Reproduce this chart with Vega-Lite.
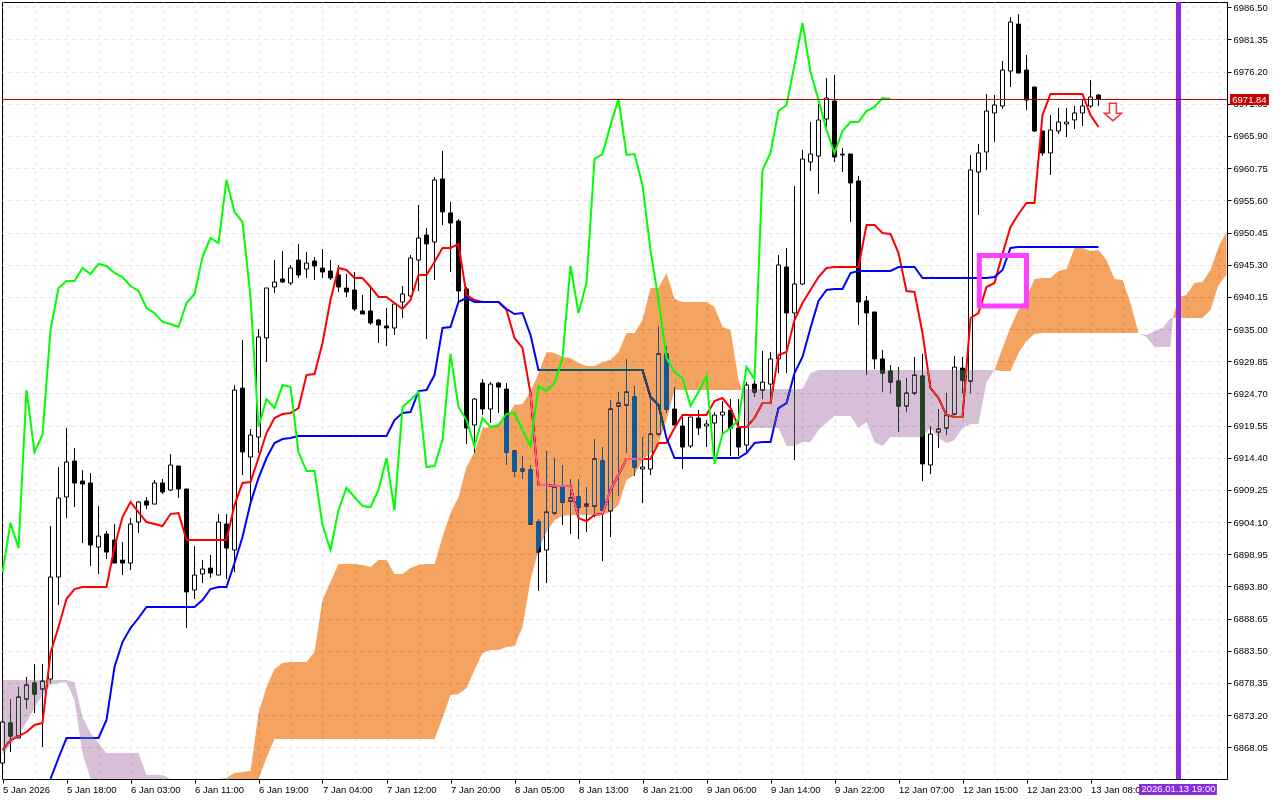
{
"$schema":"https://vega.github.io/schema/vega-lite/v6.json",
"width":1225,"height":777,
"autosize":{"type":"none"},
"padding":{"left":2,"top":2,"right":53,"bottom":21},
"background":"white",
"config":{"view":{"stroke":"black","strokeWidth":1},"font":"Liberation Sans"},
"datasets":{
"bars":[
{"i":0,"o":6865.53,"h":6872.09,"l":6865.21,"c":6872.09,"t":6867.61,"g":6896.10},
{"i":1,"o":6871.93,"h":6875.77,"l":6867.29,"c":6869.85,"t":6869.21,"g":6903.94},
{"i":2,"o":6869.53,"h":6877.69,"l":6869.53,"c":6876.09,"t":6869.85,"g":6899.94},
{"i":3,"o":6875.77,"h":6879.29,"l":6874.17,"c":6878.01,"t":6870.49,"g":6925.23},
{"i":4,"o":6878.33,"h":6881.37,"l":6873.53,"c":6876.57,"t":6871.61,"g":6915.31},
{"i":5,"o":6877.37,"h":6881.37,"l":6868.09,"c":6878.65,"t":6871.93,"g":6918.03},
{"i":6,"o":6878.97,"h":6903.46,"l":6878.33,"c":6895.30,"t":6883.13,"k":6862.97,"g":6934.85},
{"i":7,"o":6895.30,"h":6912.91,"l":6890.82,"c":6907.95,"t":6887.30,"k":6866.33,"g":6941.57},
{"i":8,"o":6908.11,"h":6919.15,"l":6904.74,"c":6913.71,"t":6891.78,"k":6869.53,"g":6942.69},
{"i":9,"o":6913.87,"h":6915.95,"l":6906.50,"c":6910.35,"t":6893.38,"k":6869.53,"g":6942.69},
{"i":10,"o":6910.67,"h":6912.43,"l":6900.74,"c":6910.19,"t":6893.70,"k":6869.53,"g":6944.77},
{"i":11,"o":6910.35,"h":6911.95,"l":6897.06,"c":6900.42,"t":6893.70,"k":6869.53,"g":6943.81},
{"i":12,"o":6900.10,"h":6906.66,"l":6895.78,"c":6901.86,"t":6893.70,"k":6869.53,"g":6945.41},
{"i":13,"o":6902.18,"h":6902.66,"l":6898.18,"c":6899.30,"t":6893.70,"k":6872.41,"g":6945.09},
{"i":14,"o":6901.22,"h":6903.78,"l":6897.54,"c":6897.54,"t":6900.10,"k":6880.89,"g":6943.97},
{"i":15,"o":6898.02,"h":6900.90,"l":6895.62,"c":6897.54,"t":6904.90,"k":6884.89,"g":6943.33},
{"i":16,"o":6897.54,"h":6904.74,"l":6896.42,"c":6903.78,"t":6907.30,"k":6887.14,"g":6941.89},
{"i":17,"o":6904.10,"h":6907.46,"l":6902.34,"c":6907.30,"t":6905.70,"k":6888.74,"g":6941.09},
{"i":18,"o":6907.46,"h":6908.11,"l":6906.18,"c":6906.82,"t":6904.10,"k":6890.50,"g":6938.37},
{"i":19,"o":6906.98,"h":6910.83,"l":6906.98,"c":6910.35,"t":6903.78,"k":6890.50,"g":6937.57},
{"i":20,"o":6910.35,"h":6910.99,"l":6908.59,"c":6908.91,"t":6903.46,"k":6890.50,"g":6936.13},
{"i":21,"o":6909.23,"h":6914.99,"l":6909.07,"c":6913.23,"t":6905.38,"k":6890.50,"g":6935.81},
{"i":22,"o":6913.07,"h":6913.07,"l":6907.95,"c":6909.39,"t":6905.54,"k":6890.50,"g":6935.33},
{"i":23,"o":6909.39,"h":6909.39,"l":6887.14,"c":6892.90,"t":6901.22,"k":6890.50,"g":6939.17},
{"i":24,"o":6893.22,"h":6900.26,"l":6891.78,"c":6895.62,"t":6901.22,"k":6890.50,"g":6940.61},
{"i":25,"o":6895.78,"h":6898.02,"l":6894.34,"c":6896.58,"t":6901.22,"k":6891.62,"g":6946.53},
{"i":26,"o":6896.74,"h":6898.82,"l":6895.14,"c":6895.94,"t":6901.22,"k":6893.38,"g":6949.57},
{"i":27,"o":6895.62,"h":6905.38,"l":6895.62,"c":6904.10,"t":6901.22,"k":6893.70,"g":6948.77},
{"i":28,"o":6903.78,"h":6905.38,"l":6894.98,"c":6899.94,"t":6901.22,"k":6893.70,"g":6958.86},
{"i":29,"o":6899.62,"h":6926.03,"l":6896.10,"c":6925.23,"t":6906.82,"k":6897.54,"g":6953.74},
{"i":30,"o":6925.55,"h":6933.25,"l":6911.63,"c":6915.31,"t":6910.35,"k":6901.70,"g":6952.13},
{"i":31,"o":6914.51,"h":6918.99,"l":6906.66,"c":6918.03,"t":6910.51,"k":6907.14,"g":6940.13},
{"i":32,"o":6917.71,"h":6935.01,"l":6915.15,"c":6933.73,"t":6914.35,"k":6911.15,"g":6919.31},
{"i":33,"o":6933.57,"h":6941.57,"l":6929.71,"c":6941.57,"t":6918.35,"k":6914.35,"g":6923.79},
{"i":34,"o":6941.73,"h":6946.05,"l":6940.77,"c":6942.53,"t":6920.75,"k":6916.75,"g":6922.35},
{"i":35,"o":6943.01,"h":6947.49,"l":6942.37,"c":6942.53,"t":6921.39,"k":6917.39,"g":6926.03},
{"i":36,"o":6942.37,"h":6945.25,"l":6942.05,"c":6944.77,"t":6921.55,"k":6917.55,"g":6925.71},
{"i":37,"o":6946.05,"h":6948.61,"l":6943.17,"c":6943.65,"t":6922.35,"k":6917.87,"g":6915.31},
{"i":38,"o":6944.61,"h":6947.33,"l":6943.17,"c":6945.57,"t":6927.63,"k":6917.87,"g":6912.27},
{"i":39,"o":6945.89,"h":6946.53,"l":6942.85,"c":6945.09,"t":6927.79,"k":6917.87,"g":6912.27},
{"i":40,"o":6944.77,"h":6947.81,"l":6943.17,"c":6944.13,"t":6932.77,"k":6917.87,"g":6903.62},
{"i":41,"o":6944.29,"h":6946.05,"l":6942.85,"c":6943.17,"t":6939.65,"k":6917.87,"g":6899.62},
{"i":42,"o":6943.65,"h":6945.25,"l":6940.93,"c":6941.73,"t":6944.77,"k":6917.87,"g":6906.02},
{"i":43,"o":6941.57,"h":6943.81,"l":6940.13,"c":6940.93,"t":6944.45,"k":6917.87,"g":6909.55},
{"i":44,"o":6941.25,"h":6944.13,"l":6937.89,"c":6938.21,"t":6943.17,"k":6917.87,"g":6908.11},
{"i":45,"o":6937.89,"h":6940.45,"l":6937.41,"c":6937.41,"t":6943.17,"k":6917.87,"g":6906.66},
{"i":46,"o":6937.89,"h":6941.57,"l":6935.65,"c":6935.97,"t":6941.73,"k":6917.87,"g":6906.50},
{"i":47,"o":6936.45,"h":6936.61,"l":6932.77,"c":6935.65,"t":6940.13,"k":6917.87,"g":6909.23},
{"i":48,"o":6935.49,"h":6938.37,"l":6932.29,"c":6935.17,"t":6940.13,"k":6917.87,"g":6914.35},
{"i":49,"o":6935.17,"h":6939.33,"l":6934.05,"c":6939.01,"t":6939.17,"k":6920.43,"g":6906.02},
{"i":50,"o":6939.33,"h":6941.89,"l":6936.77,"c":6940.61,"t":6938.21,"k":6921.55,"g":6922.51},
{"i":51,"o":6940.29,"h":6946.85,"l":6940.13,"c":6946.37,"t":6939.65,"k":6921.71,"g":6923.63},
{"i":52,"o":6946.05,"h":6954.86,"l":6941.09,"c":6949.57,"t":6943.65,"k":6925.07,"g":6924.91},
{"i":53,"o":6950.05,"h":6951.17,"l":6933.41,"c":6948.61,"t":6943.65,"k":6925.23,"g":6912.91},
{"i":54,"o":6948.93,"h":6959.34,"l":6942.85,"c":6958.86,"t":6945.73,"k":6927.63,"g":6913.07},
{"i":55,"o":6959.02,"h":6963.50,"l":6951.65,"c":6953.74,"t":6947.97,"k":6935.17,"g":6917.23},
{"i":56,"o":6953.58,"h":6955.34,"l":6944.13,"c":6951.97,"t":6947.97,"k":6935.33,"g":6931.01},
{"i":57,"o":6952.29,"h":6952.62,"l":6939.49,"c":6941.09,"t":6948.61,"k":6939.33,"g":6922.51},
{"i":58,"o":6941.41,"h":6941.73,"l":6916.59,"c":6919.15,"t":6940.45,"k":6939.97,"g":6920.43},
{"i":59,"o":6919.63,"h":6923.95,"l":6915.15,"c":6923.79,"t":6939.65,"k":6939.33,"g":6916.27},
{"i":60,"o":6926.35,"h":6926.99,"l":6921.23,"c":6922.19,"t":6939.33,"k":6939.33,"g":6920.75},
{"i":61,"o":6922.19,"h":6926.51,"l":6919.95,"c":6926.19,"t":6939.33,"k":6939.33,"g":6919.31},
{"i":62,"o":6926.35,"h":6926.51,"l":6921.55,"c":6925.71,"t":6939.33,"k":6939.33,"g":6919.63},
{"i":63,"o":6925.39,"h":6926.35,"l":6913.23,"c":6915.31,"t":6938.05,"k":6938.21,"g":6921.39},
{"i":64,"o":6915.47,"h":6915.47,"l":6911.31,"c":6912.27,"t":6933.57,"k":6937.41,"g":6921.55},
{"i":65,"o":6912.59,"h":6914.67,"l":6910.99,"c":6912.27,"t":6931.97,"k":6937.57,"g":6918.83},
{"i":66,"o":6912.43,"h":6913.23,"l":6903.78,"c":6903.78,"t":6924.75,"k":6934.05,"g":6916.27},
{"i":67,"o":6904.10,"h":6904.58,"l":6893.06,"c":6899.30,"t":6910.03,"k":6928.43,"g":6925.87},
{"i":68,"o":6899.62,"h":6915.47,"l":6894.34,"c":6905.70,"t":6910.03,"k":6928.43,"g":6925.07},
{"i":69,"o":6905.54,"h":6914.35,"l":6905.22,"c":6909.71,"t":6909.87,"k":6928.43,"g":6926.35},
{"i":70,"o":6909.71,"h":6913.23,"l":6903.62,"c":6907.30,"t":6909.87,"k":6928.43,"g":6930.37},
{"i":71,"o":6907.46,"h":6910.99,"l":6902.18,"c":6907.95,"t":6909.87,"k":6928.43,"g":6945.09},
{"i":72,"o":6908.11,"h":6910.99,"l":6901.38,"c":6906.50,"t":6904.74,"k":6928.43,"g":6937.57},
{"i":73,"o":6906.66,"h":6909.71,"l":6902.50,"c":6906.98,"t":6904.26,"k":6928.43,"g":6942.37},
{"i":74,"o":6906.66,"h":6917.39,"l":6904.90,"c":6914.19,"t":6905.22,"k":6928.43,"g":6962.22},
{"i":75,"o":6913.87,"h":6916.11,"l":6897.86,"c":6906.02,"t":6905.38,"k":6928.43,"g":6963.02},
{"i":76,"o":6905.86,"h":6923.63,"l":6901.70,"c":6922.19,"t":6909.23,"k":6928.43,"g":6967.66},
{"i":77,"o":6922.67,"h":6924.91,"l":6908.27,"c":6923.15,"t":6911.63,"k":6928.43,"g":6971.82},
{"i":78,"o":6922.83,"h":6930.21,"l":6915.15,"c":6924.91,"t":6914.19,"k":6928.43,"g":6962.86},
{"i":79,"o":6924.11,"h":6925.87,"l":6911.47,"c":6912.91,"t":6914.19,"k":6928.43,"g":6963.02},
{"i":80,"o":6912.59,"h":6917.71,"l":6907.14,"c":6912.91,"t":6914.19,"k":6928.43,"g":6958.06},
{"i":81,"o":6912.59,"h":6924.27,"l":6911.63,"c":6918.19,"t":6914.19,"k":6924.11,"g":6947.65},
{"i":82,"o":6918.19,"h":6935.49,"l":6917.87,"c":6931.01,"t":6916.75,"k":6922.83,"g":6939.65},
{"i":83,"o":6931.01,"h":6932.29,"l":6921.55,"c":6922.19,"t":6916.75,"k":6917.55,"g":6930.37},
{"i":84,"o":6922.19,"h":6925.71,"l":6919.63,"c":6919.63,"t":6919.15,"k":6914.35,"g":6928.11},
{"i":85,"o":6919.47,"h":6920.91,"l":6912.59,"c":6916.11,"t":6921.23,"k":6914.35,"g":6927.15},
{"i":86,"o":6916.27,"h":6920.91,"l":6915.95,"c":6920.91,"t":6921.23,"k":6914.35,"g":6922.67},
{"i":87,"o":6920.75,"h":6922.03,"l":6918.03,"c":6919.15,"t":6921.23,"k":6914.35,"g":6924.91},
{"i":88,"o":6919.47,"h":6920.43,"l":6916.11,"c":6919.79,"t":6921.23,"k":6914.35,"g":6927.47},
{"i":89,"o":6919.95,"h":6921.71,"l":6914.51,"c":6921.23,"t":6923.47,"k":6914.35,"g":6913.39},
{"i":90,"o":6921.23,"h":6923.47,"l":6918.35,"c":6921.71,"t":6923.95,"k":6914.35,"g":6918.19},
{"i":91,"o":6922.03,"h":6923.79,"l":6914.67,"c":6919.15,"t":6922.35,"k":6914.35,"g":6919.15},
{"i":92,"o":6919.15,"h":6923.79,"l":6914.67,"c":6916.11,"t":6919.31,"k":6914.35,"g":6920.43},
{"i":93,"o":6916.43,"h":6926.51,"l":6915.15,"c":6926.03,"t":6919.31,"k":6915.15,"g":6928.91},
{"i":94,"o":6926.19,"h":6926.99,"l":6924.11,"c":6924.91,"t":6920.75,"k":6916.75,"g":6926.99},
{"i":95,"o":6925.23,"h":6931.49,"l":6923.79,"c":6926.51,"t":6923.15,"k":6916.91,"g":6960.46},
{"i":96,"o":6926.19,"h":6931.33,"l":6924.11,"c":6930.21,"t":6923.15,"k":6916.91,"g":6963.18},
{"i":97,"o":6930.21,"h":6946.85,"l":6927.95,"c":6945.25,"t":6930.85,"k":6922.35,"g":6969.90},
{"i":98,"o":6944.93,"h":6947.97,"l":6927.95,"c":6937.57,"t":6931.33,"k":6923.15,"g":6970.86},
{"i":99,"o":6937.57,"h":6957.90,"l":6914.03,"c":6942.21,"t":6936.45,"k":6927.95,"g":6977.26},
{"i":100,"o":6942.21,"h":6963.66,"l":6942.05,"c":6962.22,"t":6939.17,"k":6930.53,"g":6983.98},
{"i":101,"o":6961.74,"h":6968.14,"l":6960.30,"c":6963.02,"t":6941.25,"k":6935.17,"g":6976.14},
{"i":102,"o":6962.70,"h":6971.02,"l":6956.62,"c":6968.46,"t":6943.33,"k":6939.49,"g":6971.66},
{"i":103,"o":6968.62,"h":6975.18,"l":6967.34,"c":6971.98,"t":6944.77,"k":6941.25,"g":6966.86},
{"i":104,"o":6971.50,"h":6975.66,"l":6961.74,"c":6962.54,"t":6944.93,"k":6941.41,"g":6963.18},
{"i":105,"o":6963.00,"h":6963.98,"l":6960.14,"c":6962.86,"t":6944.93,"k":6941.41,"g":6966.70},
{"i":106,"o":6963.02,"h":6963.02,"l":6952.13,"c":6958.38,"t":6944.93,"k":6943.97,"g":6968.14},
{"i":107,"o":6958.70,"h":6959.50,"l":6935.65,"c":6939.33,"t":6944.93,"k":6944.29,"g":6968.14},
{"i":108,"o":6939.49,"h":6940.29,"l":6927.63,"c":6937.57,"t":6951.65,"k":6944.29,"g":6969.90},
{"i":109,"o":6937.73,"h":6937.73,"l":6928.59,"c":6930.21,"t":6951.65,"k":6944.29,"g":6970.54},
{"i":110,"o":6930.21,"h":6931.65,"l":6924.91,"c":6927.95,"t":6950.37,"k":6944.29,"g":6971.98},
{"i":111,"o":6928.27,"h":6929.23,"l":6924.75,"c":6926.51,"t":6950.21,"k":6944.29,"g":6971.82},
{"i":112,"o":6926.67,"h":6928.91,"l":6918.51,"c":6922.67,"t":6947.17,"k":6944.93},
{"i":113,"o":6922.67,"h":6927.15,"l":6921.71,"c":6924.75,"t":6941.09,"k":6944.93},
{"i":114,"o":6924.75,"h":6930.53,"l":6924.43,"c":6927.63,"t":6940.93,"k":6944.93},
{"i":115,"o":6927.47,"h":6931.01,"l":6910.67,"c":6913.39,"t":6934.37,"k":6943.17},
{"i":116,"o":6913.23,"h":6919.47,"l":6911.79,"c":6918.19,"t":6925.55,"k":6943.17},
{"i":117,"o":6918.51,"h":6922.19,"l":6915.95,"c":6918.99,"t":6923.95,"k":6943.17},
{"i":118,"o":6919.15,"h":6924.75,"l":6918.03,"c":6921.23,"t":6921.23,"k":6943.17},
{"i":119,"o":6921.39,"h":6930.69,"l":6921.23,"c":6928.91,"t":6920.91,"k":6943.17},
{"i":120,"o":6928.75,"h":6930.53,"l":6924.75,"c":6926.83,"t":6920.91,"k":6943.17},
{"i":121,"o":6926.67,"h":6962.86,"l":6924.75,"c":6960.46,"t":6936.77,"k":6943.17},
{"i":122,"o":6960.14,"h":6964.62,"l":6953.26,"c":6963.18,"t":6937.57,"k":6943.17},
{"i":123,"o":6963.34,"h":6972.62,"l":6960.46,"c":6969.90,"t":6941.73,"k":6943.17},
{"i":124,"o":6969.58,"h":6972.46,"l":6964.94,"c":6970.86,"t":6942.37,"k":6943.33},
{"i":125,"o":6970.70,"h":6977.90,"l":6970.22,"c":6976.46,"t":6947.01,"k":6944.45},
{"i":126,"o":6976.30,"h":6984.94,"l":6973.74,"c":6984.14,"t":6951.33,"k":6947.97},
{"i":127,"o":6983.82,"h":6985.42,"l":6975.98,"c":6975.98,"t":6953.42,"k":6948.13},
{"i":128,"o":6976.46,"h":6978.86,"l":6970.06,"c":6971.66,"t":6955.18,"k":6948.13},
{"i":129,"o":6973.74,"h":6973.74,"l":6966.54,"c":6966.70,"t":6955.18,"k":6948.13},
{"i":130,"o":6966.70,"h":6966.70,"l":6962.70,"c":6963.18,"t":6969.26,"k":6948.13},
{"i":131,"o":6963.18,"h":6969.26,"l":6959.66,"c":6966.86,"t":6972.62,"k":6948.13},
{"i":132,"o":6966.70,"h":6970.38,"l":6966.22,"c":6968.14,"t":6972.62,"k":6948.13},
{"i":133,"o":6967.82,"h":6970.38,"l":6965.74,"c":6968.14,"t":6972.62,"k":6948.13},
{"i":134,"o":6968.46,"h":6970.70,"l":6967.02,"c":6969.58,"t":6972.62,"k":6948.13},
{"i":135,"o":6969.58,"h":6971.82,"l":6967.50,"c":6970.70,"t":6972.62,"k":6948.13},
{"i":136,"o":6970.70,"h":6974.86,"l":6970.38,"c":6972.14,"t":6969.26,"k":6948.13},
{"i":137,"o":6972.46,"h":6972.62,"l":6970.70,"c":6971.84,"t":6967.34,"k":6948.13}
],
"cloud":[
{"i":0,"a":6866.81,"b":6878.81},{"i":1,"a":6868.41,"b":6878.81},{"i":2,"a":6870.01,"b":6878.81},{"i":3,"a":6872.09,"b":6878.81},
{"i":4,"a":6874.33,"b":6878.81},{"i":5,"a":6876.41,"b":6878.81},{"i":6,"a":6878.01,"b":6878.81},{"i":7,"a":6878.33,"b":6878.81},
{"i":8,"a":6878.49,"b":6878.81},{"i":9,"a":6875.61,"b":6878.49},{"i":10,"a":6867.13,"b":6872.89},{"i":11,"a":6862.97,"b":6870.33},
{"i":12,"a":6862.97,"b":6868.73},{"i":13,"a":6862.97,"b":6867.13},{"i":14,"a":6862.97,"b":6867.13},{"i":15,"a":6862.97,"b":6867.13},
{"i":16,"a":6862.97,"b":6867.13},{"i":17,"a":6862.97,"b":6867.13},{"i":18,"a":6862.97,"b":6863.61},{"i":19,"a":6862.97,"b":6863.61},
{"i":20,"a":6862.97,"b":6863.61},{"i":21,"a":6862.97,"b":6862.97},
{"i":27,"a":6862.97,"b":6862.97},{"i":28,"a":6863.13,"b":6862.97},{"i":29,"a":6863.93,"b":6862.97},{"i":30,"a":6864.09,"b":6862.97},
{"i":31,"a":6864.25,"b":6862.97},{"i":32,"a":6873.53,"b":6862.97},{"i":33,"a":6877.69,"b":6866.33},{"i":34,"a":6880.57,"b":6869.37},
{"i":35,"a":6881.53,"b":6869.37},{"i":36,"a":6881.69,"b":6869.37},{"i":37,"a":6881.69,"b":6869.37},{"i":38,"a":6881.69,"b":6869.37},
{"i":39,"a":6883.29,"b":6869.37},{"i":40,"a":6891.62,"b":6869.37},{"i":41,"a":6894.50,"b":6869.37},{"i":42,"a":6897.38,"b":6869.37},
{"i":43,"a":6897.38,"b":6869.37},{"i":44,"a":6897.38,"b":6869.37},{"i":45,"a":6897.22,"b":6869.37},{"i":46,"a":6896.90,"b":6869.37},
{"i":47,"a":6898.02,"b":6869.37},{"i":48,"a":6898.02,"b":6869.37},{"i":49,"a":6895.78,"b":6869.37},{"i":50,"a":6895.78,"b":6869.37},
{"i":51,"a":6896.74,"b":6869.37},{"i":52,"a":6897.22,"b":6869.37},{"i":53,"a":6897.38,"b":6869.37},{"i":54,"a":6897.38,"b":6869.37},
{"i":55,"a":6901.70,"b":6872.73},{"i":56,"a":6905.54,"b":6876.41},{"i":57,"a":6908.11,"b":6876.57},{"i":58,"a":6912.91,"b":6877.53},
{"i":59,"a":6915.31,"b":6880.41},{"i":60,"a":6919.15,"b":6883.13},{"i":61,"a":6919.31,"b":6883.61},{"i":62,"a":6919.63,"b":6883.61},
{"i":63,"a":6920.91,"b":6884.09},{"i":64,"a":6922.83,"b":6884.25},{"i":65,"a":6922.99,"b":6887.30},{"i":66,"a":6924.91,"b":6894.82},
{"i":67,"a":6927.95,"b":6899.62},{"i":68,"a":6931.33,"b":6902.50},{"i":69,"a":6931.17,"b":6904.42},{"i":70,"a":6930.53,"b":6905.06},
{"i":71,"a":6930.37,"b":6905.22},{"i":72,"a":6929.55,"b":6905.22},{"i":73,"a":6929.07,"b":6905.22},{"i":74,"a":6929.07,"b":6905.22},
{"i":75,"a":6929.71,"b":6905.22},{"i":76,"a":6930.03,"b":6905.70},{"i":77,"a":6931.33,"b":6906.82},{"i":78,"a":6934.37,"b":6910.83},
{"i":79,"a":6934.37,"b":6911.63},{"i":80,"a":6936.45,"b":6914.03},{"i":81,"a":6941.57,"b":6915.15},{"i":82,"a":6941.57,"b":6916.75},
{"i":83,"a":6943.97,"b":6920.43},{"i":84,"a":6939.81,"b":6925.23},{"i":85,"a":6939.33,"b":6925.23},{"i":86,"a":6939.33,"b":6925.23},
{"i":87,"a":6939.33,"b":6925.23},{"i":88,"a":6939.33,"b":6925.23},{"i":89,"a":6938.53,"b":6925.23},{"i":90,"a":6935.33,"b":6925.23},
{"i":91,"a":6934.85,"b":6925.23},{"i":92,"a":6926.83,"b":6925.23},{"i":92.4,"a":6925.31,"b":6925.31},
{"i":93,"a":6919.15,"b":6925.39},{"i":94,"a":6919.15,"b":6925.39},{"i":95,"a":6919.15,"b":6925.39},{"i":96,"a":6919.15,"b":6925.39},
{"i":97,"a":6919.15,"b":6925.39},{"i":98,"a":6916.27,"b":6925.39},{"i":99,"a":6916.27,"b":6925.39},{"i":100,"a":6916.91,"b":6925.39},
{"i":101,"a":6916.91,"b":6927.95},{"i":102,"a":6918.83,"b":6928.43},{"i":103,"a":6919.95,"b":6928.43},{"i":104,"a":6921.07,"b":6928.43},
{"i":105,"a":6921.07,"b":6928.43},{"i":106,"a":6921.07,"b":6928.43},{"i":107,"a":6919.15,"b":6928.43},{"i":108,"a":6920.11,"b":6928.43},
{"i":109,"a":6916.91,"b":6928.43},{"i":110,"a":6916.27,"b":6928.43},{"i":111,"a":6917.71,"b":6928.43},{"i":112,"a":6917.71,"b":6928.43},
{"i":113,"a":6917.71,"b":6928.43},{"i":114,"a":6917.71,"b":6928.43},{"i":115,"a":6917.71,"b":6928.43},{"i":116,"a":6919.15,"b":6928.43},
{"i":117,"a":6917.55,"b":6928.43},{"i":118,"a":6916.75,"b":6928.43},{"i":119,"a":6917.23,"b":6928.43},{"i":120,"a":6919.15,"b":6928.43},
{"i":121,"a":6919.79,"b":6928.43},{"i":122,"a":6919.79,"b":6928.43},{"i":123,"a":6926.51,"b":6928.43},{"i":124,"a":6928.43,"b":6928.43},
{"i":125,"a":6931.97,"b":6928.27},{"i":126,"a":6935.33,"b":6928.27},{"i":127,"a":6938.05,"b":6931.17},{"i":128,"a":6939.97,"b":6933.09},
{"i":129,"a":6943.01,"b":6934.21},{"i":130,"a":6943.17,"b":6934.37},{"i":131,"a":6943.17,"b":6934.37},{"i":132,"a":6944.29,"b":6934.37},
{"i":133,"a":6944.61,"b":6934.37},{"i":134,"a":6947.97,"b":6934.37},{"i":135,"a":6947.97,"b":6934.37},{"i":136,"a":6947.49,"b":6934.37},
{"i":137,"a":6947.65,"b":6934.37},{"i":138,"a":6946.05,"b":6934.37},{"i":139,"a":6943.01,"b":6934.37},{"i":140,"a":6942.85,"b":6934.37},
{"i":141,"a":6939.17,"b":6934.37},{"i":142,"a":6934.37,"b":6934.37},{"i":143,"a":6933.73,"b":6934.05},{"i":144,"a":6932.13,"b":6934.69},
{"i":145,"a":6932.13,"b":6935.17},{"i":146,"a":6932.13,"b":6936.77},{"i":146.3,"a":6936.77,"b":6936.77},{"i":147,"a":6940.13,"b":6936.77},
{"i":148,"a":6940.45,"b":6936.77},{"i":149,"a":6942.37,"b":6936.77},{"i":150,"a":6942.53,"b":6936.77},{"i":151,"a":6944.45,"b":6938.05},
{"i":152,"a":6948.13,"b":6942.05},{"i":153,"a":6950.53,"b":6943.65}
]
},
"encoding":{
"x":{"field":"i","type":"quantitative","title":null,
"scale":{"domain":[-0.0625,153.0625],"nice":false,"zero":false,"padding":0},
"axis":{"orient":"bottom","tickCount":60,"values":[0,4,8,12,16,20,24,28,32,36,40,44,48,52,56,60,64,68,72,76,80,84,88,92,96,100,104,108,112,116,120,124,128,132,136,140,144,148,152],
"grid":true,"gridColor":"#E6E6E6","gridDash":[4,4],"gridWidth":1,"domain":false,
"tickColor":"black","tickSize":4,"tickOpacity":{"condition":{"test":"datum.value%8==0&&datum.value<=136","value":1},"value":0},
"labelExpr":"datum.value%8==0&&datum.value<=136?['5 Jan 2026','5 Jan 18:00','6 Jan 03:00','6 Jan 11:00','6 Jan 19:00','7 Jan 04:00','7 Jan 12:00','7 Jan 20:00','8 Jan 05:00','8 Jan 13:00','8 Jan 21:00','9 Jan 06:00','9 Jan 14:00','9 Jan 22:00','12 Jan 07:00','12 Jan 15:00','12 Jan 23:00','13 Jan 08:00'][datum.value/8]:''",
"labelAlign":"left","labelBaseline":"middle","labelPadding":6,"labelFont":"Liberation Sans","labelFontSize":9.5,"labelColor":"black","labelOverlap":false,"labelFlush":false,"labelBound":false}}
},
"layer":[
{"data":{"name":"bars"},"mark":{"type":"rule","color":"black","strokeWidth":1},
"encoding":{"y":{"field":"l","type":"quantitative","title":null,"scale":{"domain":[6862.97,6987.35],"nice":false,"zero":false},
"axis":{"orient":"right","tickCount":60,"values":[6986.50,6981.35,6976.20,6971.05,6965.90,6960.75,6955.60,6950.45,6945.30,6940.15,6935.00,6929.85,6924.70,6919.55,6914.40,6909.25,6904.10,6898.95,6893.80,6888.65,6883.50,6878.35,6873.20,6868.05],
"format":".2f","grid":true,"gridColor":"#E6E6E6","gridDash":[4,4],"gridWidth":1,"domain":false,"tickColor":"black","tickSize":4,"labelPadding":2,"labelFont":"Liberation Sans","labelFontSize":9.5,"labelColor":"black","labelOverlap":false,"labelBound":false,"labelFlush":false}},
"y2":{"field":"h"}}},
{"data":{"name":"bars"},"mark":{"type":"bar","size":4,"stroke":"black","strokeWidth":1},
"encoding":{"y":{"field":"o","type":"quantitative","title":null,"scale":{"domain":[6862.97,6987.35],"nice":false,"zero":false}},"y2":{"field":"c"},
"fill":{"condition":{"test":"datum.c>=datum.o","value":"white"},"value":"black"}}},
{"data":{"name":"bars"},"mark":{"type":"line","color":"#FF0000","strokeWidth":2},
"encoding":{"y":{"field":"t","type":"quantitative","title":null,"scale":{"domain":[6862.97,6987.35],"nice":false,"zero":false}}}},
{"data":{"name":"bars"},"mark":{"type":"line","color":"#0000FF","strokeWidth":2},
"encoding":{"y":{"field":"k","type":"quantitative","title":null,"scale":{"domain":[6862.97,6987.35],"nice":false,"zero":false}}}},
{"data":{"name":"cloud"},"transform":[{"filter":"datum.a>=datum.b"}],"mark":{"type":"area","color":"#0B5B9F","opacity":1,"blend":"difference"},
"encoding":{"y":{"field":"a","type":"quantitative","title":null,"scale":{"domain":[6862.97,6987.35],"nice":false,"zero":false}},"y2":{"field":"b"}}},
{"data":{"name":"cloud"},"transform":[{"filter":"datum.a<=datum.b"}],"mark":{"type":"area","color":"#274027","opacity":1,"blend":"difference"},
"encoding":{"y":{"field":"a","type":"quantitative","title":null,"scale":{"domain":[6862.97,6987.35],"nice":false,"zero":false}},"y2":{"field":"b"}}},
{"data":{"name":"bars"},"mark":{"type":"line","color":"#00FF00","strokeWidth":2},
"encoding":{"y":{"field":"g","type":"quantitative","title":null,"scale":{"domain":[6862.97,6987.35],"nice":false,"zero":false}}}},
{"data":{"values":[{"i":122.1,"i2":128,"p":6946.77,"p2":6938.69}]},"mark":{"type":"rect","fillOpacity":0,"stroke":"#FF40FF","strokeWidth":5},
"encoding":{"x2":{"field":"i2"},"y":{"field":"p","type":"quantitative","title":null,"scale":{"domain":[6862.97,6987.35],"nice":false,"zero":false}},"y2":{"field":"p2"}}},
{"data":{"values":[{"i":147}]},"mark":{"type":"rule","color":"#8A2BE2","strokeWidth":5},"encoding":{}},
{"data":{"values":[{"p":6971.75}]},"mark":{"type":"rule","color":"#B00000","strokeWidth":1},
"encoding":{"x":{"value":0},"x2":{"value":1225},"y":{"field":"p","type":"quantitative","title":null,"scale":{"domain":[6862.97,6987.35],"nice":false,"zero":false}}}},
{"data":{"values":[{"i":138.8,"p":6969.74}]},"mark":{"type":"point","filled":false,"fill":"white","fillOpacity":1,"stroke":"#FF3030","strokeWidth":1.5,"size":300,"opacity":1,"shape":"M-0.4,-1 L0.4,-1 L0.4,0.15 L1,0.15 L0,1 L-1,0.15 L-0.4,0.15 Z"},
"encoding":{"y":{"field":"p","type":"quantitative","title":null,"scale":{"domain":[6862.97,6987.35],"nice":false,"zero":false}}}},
{"data":{"values":[{"i":153.44,"i2":158.3,"p":6972.62,"p2":6970.86}]},"mark":{"type":"rect","color":"#C80000"},
"encoding":{"x2":{"field":"i2"},"y":{"field":"p","type":"quantitative","title":null,"scale":{"domain":[6862.97,6987.35],"nice":false,"zero":false}},"y2":{"field":"p2"}}},
{"data":{"values":[{"i":155.87,"p":6971.74,"label":"6971.84"}]},"mark":{"type":"text","color":"white","font":"Liberation Sans","fontSize":9.5},
"encoding":{"text":{"field":"label"},"y":{"field":"p","type":"quantitative","title":null,"scale":{"domain":[6862.97,6987.35],"nice":false,"zero":false}}}},
{"data":{"values":[{"i":142.06,"i2":151.8,"p":6862.17,"p2":6860.41}]},"mark":{"type":"rect","color":"#8A2BE2"},
"encoding":{"x2":{"field":"i2"},"y":{"field":"p","type":"quantitative","title":null,"scale":{"domain":[6862.97,6987.35],"nice":false,"zero":false}},"y2":{"field":"p2"}}},
{"data":{"values":[{"i":147,"p":6861.3,"label":"2026.01.13 19:00"}]},"mark":{"type":"text","color":"white","font":"Liberation Sans","fontSize":9.5},
"encoding":{"text":{"field":"label"},"y":{"field":"p","type":"quantitative","title":null,"scale":{"domain":[6862.97,6987.35],"nice":false,"zero":false}}}}
]
}
